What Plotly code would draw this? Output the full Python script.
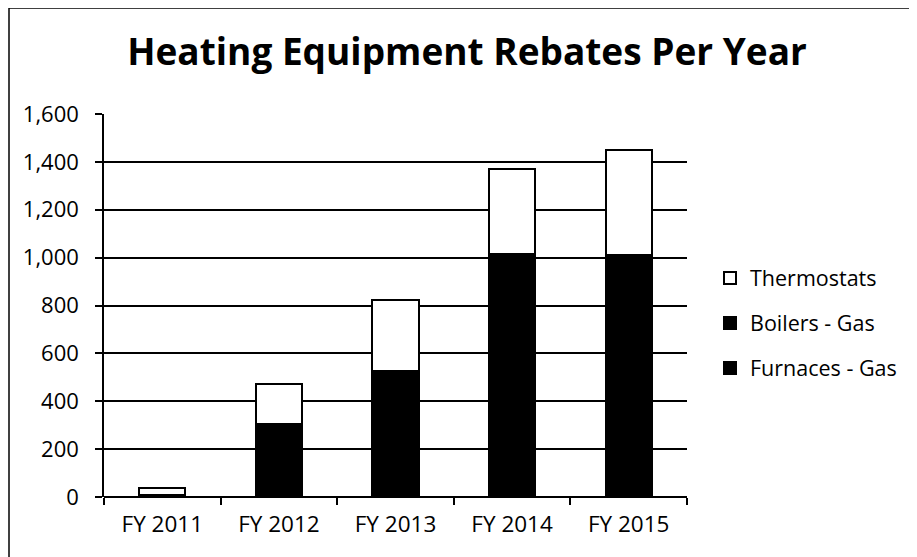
import plotly.graph_objects as go

categories = ["FY 2011", "FY 2012", "FY 2013", "FY 2014", "FY 2015"]
furnaces_gas = [3, 200, 360, 700, 690]
boilers_gas = [5, 105, 168, 314, 320]
thermostats = [30, 168, 297, 358, 439]
y_ticks = [0, 200, 400, 600, 800, 1000, 1200, 1400, 1600]
y_tick_labels = ["0", "200", "400", "600", "800", "1,000", "1,200", "1,400", "1,600"]

FONT = "Open Sans"
W, H = 917, 557
OFF = 8  # default body margin of the html page
L, R, T, B = 104 - OFF, W - (687 - OFF), 114 - OFF, H - (497 - OFF)

fig = go.Figure()
series = [("Furnaces - Gas", furnaces_gas, "#000000", 3),
          ("Boilers - Gas", boilers_gas, "#000000", 2),
          ("Thermostats", thermostats, "#ffffff", 1)]
for name, vals, col, rank in series:
    fig.add_trace(go.Bar(
        x=categories, y=vals, name=name, legendgroup=name, legendrank=rank,
        marker=dict(color=col, line=dict(color="black", width=2)),
    ))

def px_x(px):
    return (px - OFF - L) / (W - L - R)

def px_y(py):
    return (H - B - (py - OFF)) / (H - T - B)

shapes = [
    dict(type="line", xref="paper", yref="paper", x0=px_x(9), x1=px_x(9), y0=px_y(570), y1=px_y(8),
         line=dict(color="black", width=1.5)),
    dict(type="line", xref="paper", yref="paper", x0=px_x(9), x1=px_x(930), y0=px_y(8), y1=px_y(8),
         line=dict(color="black", width=1.5)),
]

fig.update_layout(
    width=W, height=H,
    margin=dict(l=L, r=R, t=T, b=B, pad=0),
    paper_bgcolor="white", plot_bgcolor="white",
    barmode="stack", bargap=0.605,
    font=dict(family=FONT, size=22, color="black"),
    title=dict(text="<b>Heating Equipment Rebates Per Year</b>", x=px_x(467), xref="paper", xanchor="center",
               y=1 - (52 - OFF) / H, yref="container", yanchor="middle",
               font=dict(family=FONT, size=37, color="black")),
    xaxis=dict(type="category", showline=False, showgrid=False, ticks="outside",
               tickson="boundaries", ticklen=7, tickwidth=1.5, tickcolor="black",
               ticklabelstandoff=11, tickfont=dict(size=22.5)),
    yaxis=dict(range=[0, 1600], tickvals=y_ticks, ticktext=y_tick_labels,
               showline=True, linecolor="black", linewidth=1.5,
               showgrid=True, gridcolor="black", gridwidth=1.5,
               ticks="outside", ticklen=7, tickwidth=1.5, tickcolor="black",
               zeroline=True, zerolinecolor="black", zerolinewidth=1.5,
               ticklabelstandoff=12, tickfont=dict(size=22)),
    legend=dict(x=px_x(710), xanchor="left", y=px_y(323), yanchor="middle",
                traceorder="grouped", tracegroupgap=14,
                font=dict(size=21.5), itemwidth=30, bgcolor="rgba(0,0,0,0)"),
    shapes=shapes,
)

fig.write_html("out.html")
